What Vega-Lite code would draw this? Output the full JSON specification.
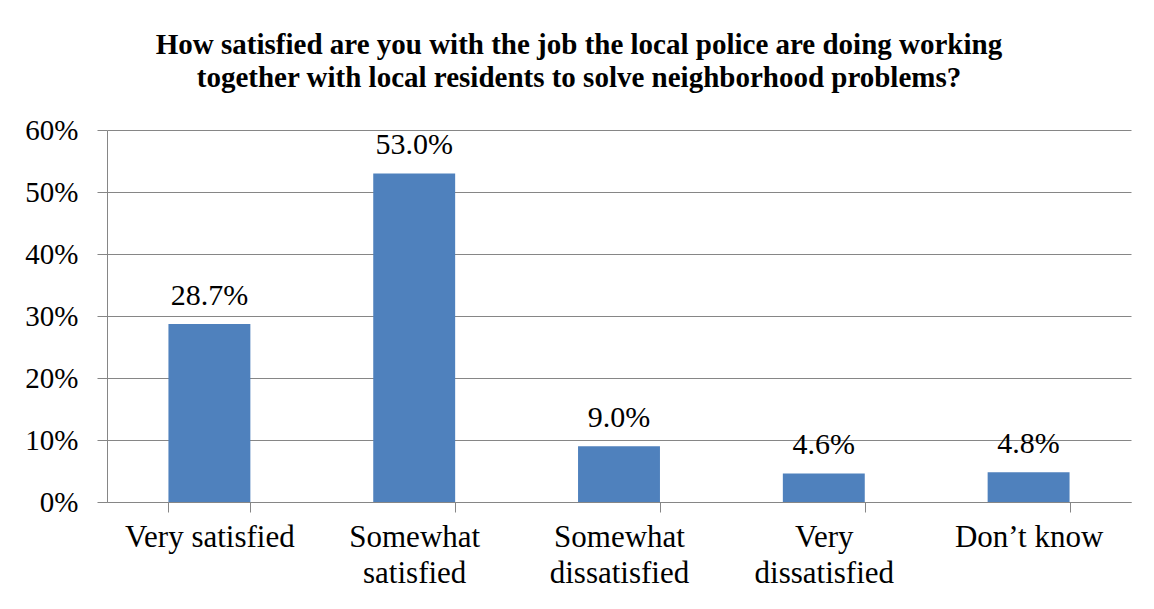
{
  "$schema": "https://vega.github.io/schema/vega-lite/v6.json",
  "width": 1024,
  "height": 372,
  "autosize": "none",
  "padding": {"left": 107, "top": 130, "right": 23, "bottom": 107},
  "background": "white",
  "title": {
    "text": ["How satisfied are you with the job the local police are doing working", "together with local residents to solve neighborhood problems?"],
    "font": "Liberation Serif",
    "fontSize": 29,
    "fontWeight": "bold",
    "color": "black",
    "anchor": "middle",
    "dx": -40,
    "offset": 23,
    "lineHeight": 33
  },
  "data": {
    "values": [
      {"category": "Very satisfied", "value": 0.287},
      {"category": "Somewhat|satisfied", "value": 0.53},
      {"category": "Somewhat|dissatisfied", "value": 0.09},
      {"category": "Very|dissatisfied", "value": 0.046},
      {"category": "Don’t know", "value": 0.048}
    ]
  },
  "encoding": {
    "x": {
      "field": "category",
      "type": "nominal",
      "sort": null,
      "scale": {"paddingInner": 0.6, "paddingOuter": 0.3},
      "axis": {
        "title": null,
        "labelAngle": 0,
        "labelExpr": "split(datum.label, '|')",
        "labelFont": "Liberation Serif",
        "labelFontSize": 31,
        "labelColor": "black",
        "labelPadding": 10,
        "labelLineHeight": 36,
        "tickBand": "extent",
        "tickColor": "#868686",
        "tickSize": 10,
        "domainColor": "#868686",
        "grid": false
      }
    },
    "y": {
      "field": "value",
      "type": "quantitative",
      "scale": {"domain": [0, 0.6]},
      "axis": {
        "title": null,
        "format": ".0%",
        "values": [0, 0.1, 0.2, 0.3, 0.4, 0.5, 0.6],
        "labelFont": "Liberation Serif",
        "labelFontSize": 29,
        "labelColor": "black",
        "labelPadding": 19,
        "tickColor": "#868686",
        "tickSize": 10,
        "domainColor": "#868686",
        "grid": true,
        "gridColor": "#868686"
      }
    }
  },
  "layer": [
    {"mark": {"type": "bar", "color": "#4F81BD"}},
    {
      "mark": {"type": "text", "baseline": "alphabetic", "dy": -19, "font": "Liberation Serif", "fontSize": 30, "color": "black"},
      "encoding": {"text": {"field": "value", "type": "quantitative", "format": ".1%"}}
    }
  ],
  "config": {"view": {"stroke": null}, "font": "Liberation Serif"}
}
